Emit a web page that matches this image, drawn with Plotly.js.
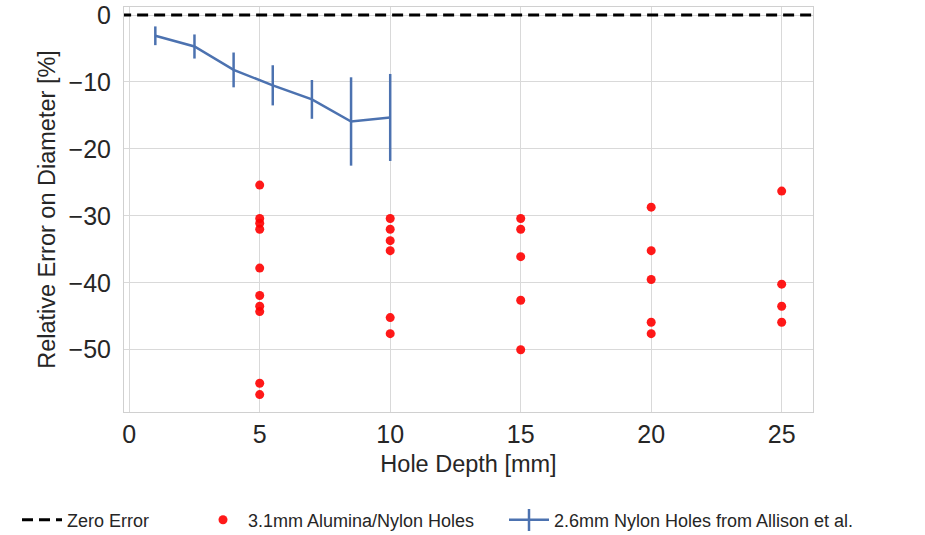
<!DOCTYPE html>
<html>
<head>
<meta charset="utf-8">
<script src="https://cdn.plot.ly/plotly-3.0.1.min.js"></script>
<style>html,body{margin:0;padding:0;background:#fff;}#chart{width:925px;height:535px;}</style>
</head>
<body>
<div id="chart"></div>
<script>
// Zero error reference line
const zeroLineX = [-1, 27];
const zeroLineY = [0, 0];

// 3.1mm Alumina/Nylon holes (red dots)
const holeDepth = [5,5,5,5,5,5,5,5,5,5, 10,10,10,10,10,10, 15,15,15,15,15, 20,20,20,20,20, 25,25,25,25];
const holeError = [-25.4,-30.4,-31.1,-32.0,-37.8,-41.9,-43.5,-44.3,-55.0,-56.7,
                   -30.4,-32.0,-33.7,-35.2,-45.2,-47.6,
                   -30.4,-32.0,-36.1,-42.6,-50.0,
                   -28.7,-35.2,-39.5,-45.9,-47.6,
                   -26.3,-40.2,-43.5,-45.9];

// 2.6mm Nylon holes from Allison et al.
const allisonDepth = [1.0, 2.5, 4.0, 5.5, 7.0, 8.5, 10.0];
const allisonError = [-3.1, -4.7, -8.2, -10.5, -12.6, -15.9, -15.3];
const allisonErrBar = [1.4, 1.8, 2.6, 3.0, 2.9, 6.6, 6.5];

const xTicks = [0, 5, 10, 15, 20, 25];
const yTicks = [0, -10, -20, -30, -40, -50];

const txt = '#262626';
const font = 'Liberation Sans, Arial, sans-serif';
const W = 925, H = 535;
const M = {l: 124, r: 112, t: 7, b: 123};
const legendCenterY = 520;
const legend3X = 504;

const traces = [
  {
    x: zeroLineX, y: zeroLineY, mode: 'lines', name: 'Zero Error', legend: 'legend',
    line: {color: '#000000', width: 3, dash: '11px,6px'}
  },
  {
    x: holeDepth, y: holeError, mode: 'markers', name: '3.1mm Alumina/Nylon Holes', legend: 'legend2',
    marker: {color: '#ff0000', size: 9, opacity: 0.9, line: {width: 0}}
  },
  {
    x: allisonDepth, y: allisonError, mode: 'lines', name: '2.6mm Nylon Holes from Allison et al.', legend: 'legend3',
    line: {color: '#4C72B0', width: 2.5},
    error_y: {type: 'data', array: allisonErrBar, visible: true, color: '#4C72B0', thickness: 2.5, width: 0}
  }
];

function legendAt(px) {
  return {
    orientation: 'h', xref: 'container', yref: 'container',
    x: px / W, y: 1 - legendCenterY / H, xanchor: 'left', yanchor: 'middle',
    font: {size: 18, color: txt, family: font},
    itemwidth: 40,
    bgcolor: 'rgba(0,0,0,0)', borderwidth: 0
  };
}

// small vertical tick on the error-bar legend symbol (centre of the symbol)
const pw = W - M.l - M.r, ph = H - M.t - M.b;
const legBarX = (legend3X + 25 - M.l) / pw;
const legBarY0 = (H - M.b - (legendCenterY - 11)) / ph;
const legBarY1 = (H - M.b - (legendCenterY + 11)) / ph;

const layout = {
  width: W, height: H,
  paper_bgcolor: '#ffffff', plot_bgcolor: '#ffffff',
  margin: M,
  font: {family: font, color: txt},
  showlegend: true,
  legend: legendAt(17),
  legend2: legendAt(198),
  legend3: legendAt(legend3X),
  shapes: [{
    type: 'line', xref: 'paper', yref: 'paper',
    x0: legBarX, x1: legBarX, y0: legBarY0, y1: legBarY1,
    line: {color: '#4C72B0', width: 2.5}
  }],
  xaxis: {
    range: [-0.2, 26.2], tickvals: xTicks, ticktext: xTicks.map(String),
    showgrid: true, gridcolor: '#d9d9d9', gridwidth: 1,
    zeroline: false, showline: true, linecolor: '#d0d0d0', linewidth: 1, mirror: true,
    ticks: '', tickfont: {size: 25, color: txt},
    title: {text: 'Hole Depth [mm]', font: {size: 23.5, color: txt}, standoff: 8}
  },
  yaxis: {
    range: [-59.3, 1.2], tickvals: yTicks,
    showgrid: true, gridcolor: '#d9d9d9', gridwidth: 1,
    zeroline: false, showline: true, linecolor: '#d0d0d0', linewidth: 1, mirror: true,
    ticks: '', tickfont: {size: 25, color: txt}, ticklabelstandoff: 7,
    title: {text: 'Relative Error on Diameter [%]', font: {size: 23.5, color: txt}, standoff: 6}
  }
};

Plotly.newPlot('chart', traces, layout, {displayModeBar: false, staticPlot: true});
</script>
</body>
</html>
